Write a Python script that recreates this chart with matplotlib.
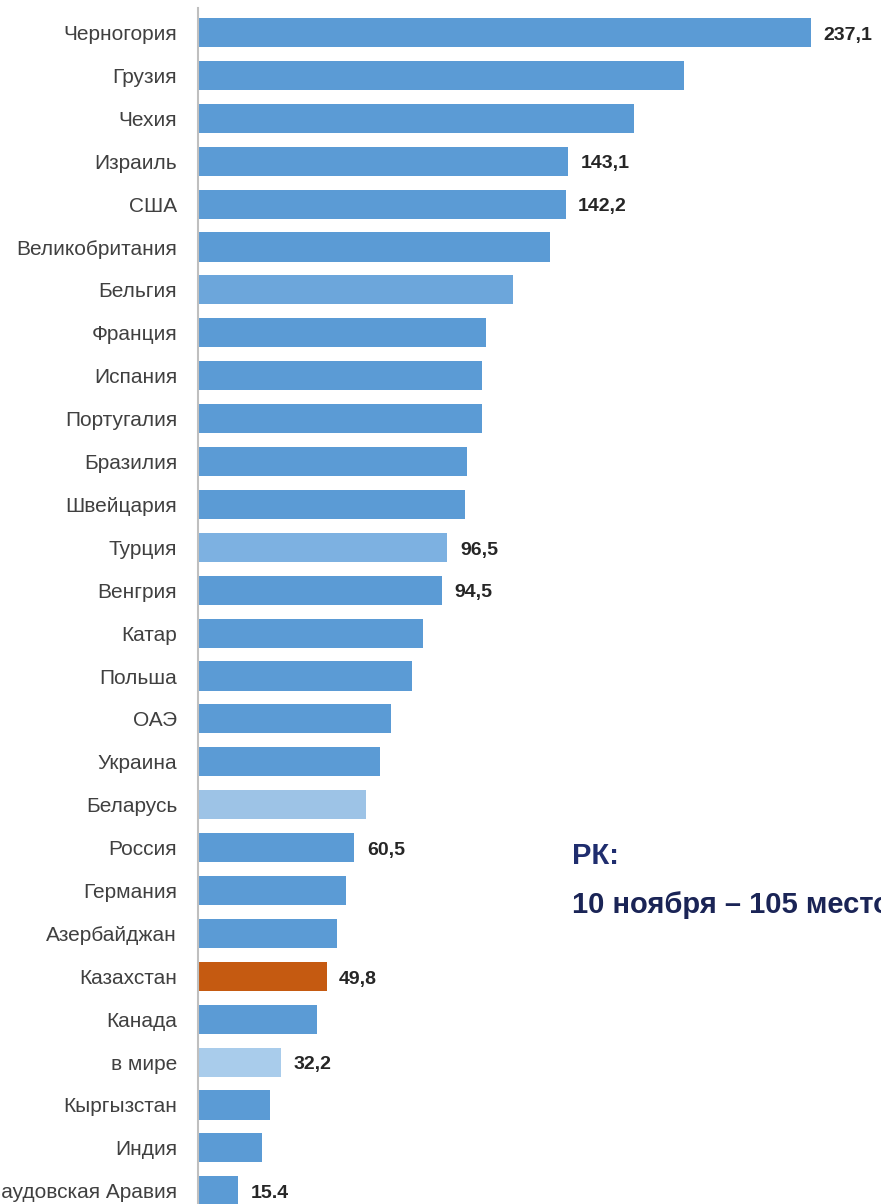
import matplotlib.pyplot as plt

countries = ["Черногория", "Грузия", "Чехия", "Израиль", "США", "Великобритания",
             "Бельгия", "Франция", "Испания", "Португалия", "Бразилия", "Швейцария",
             "Турция", "Венгрия", "Катар", "Польша", "ОАЭ", "Украина", "Беларусь",
             "Россия", "Германия", "Азербайджан", "Казахстан", "Канада", "в мире",
             "Кыргызстан", "Индия", "Саудовская Аравия"]
values = [237.1, 188.0, 168.7, 143.1, 142.2, 136.0, 122.0, 111.4, 109.9, 109.9,
          104.0, 103.3, 96.5, 94.5, 87.0, 82.8, 74.7, 70.4, 65.0, 60.5, 57.3,
          53.8, 49.8, 46.0, 32.2, 27.9, 24.8, 15.4]
value_labels = ["237,1", None, None, "143,1", "142,2", None, None, None, None, None,
                None, None, "96,5", "94,5", None, None, None, None, None, "60,5",
                None, None, "49,8", None, "32,2", None, None, "15.4"]

base = "#5B9BD5"
special = {"Бельгия": "#6CA6DB", "Турция": "#7DB1E1", "Беларусь": "#9DC3E6",
           "в мире": "#A9CCEB", "Казахстан": "#C55A11"}
colors = [special.get(c, base) for c in countries]

plt.rcParams['font.family'] = ['Liberation Sans Narrow', 'Liberation Sans', 'DejaVu Sans']

fig = plt.figure(figsize=(8.81, 12.04), dpi=100)
ax = fig.add_axes([198 / 881, 0, (881 - 198) / 881, (1204 - 8) / 1204])

pos = list(range(len(countries)))
ax.barh(pos, values, height=0.68, color=colors)

ax.set_xlim(0, (881 - 198) / 2.585)
ax.set_ylim((1204 - 32.5) / 42.9, -(32.5 - 8) / 42.9)

ax.set_yticks(pos)
ax.set_yticklabels(countries, fontsize=15, color="#404040")
ax.tick_params(axis="y", length=0, pad=15)
ax.set_xticks([])

for side in ["top", "right", "bottom"]:
    ax.spines[side].set_visible(False)
ax.spines["left"].set_color("#BFBFBF")
ax.spines["left"].set_linewidth(1.5)

for p, v, lab in zip(pos, values, value_labels):
    if lab:
        ax.annotate(lab, (v, p), xytext=(9, -2), textcoords="offset points",
                    va="center", ha="left", fontsize=14, fontweight="bold",
                    color="#262626")

fig.text(572 / 881, 1 - 856 / 1204, "РК:", fontsize=21, fontweight="bold",
         color="#1F2D6E", va="center", ha="left")
fig.text(572 / 881, 1 - 905 / 1204, "10 ноября – 105 место", fontsize=21,
         fontweight="bold", color="#1A2456", va="center", ha="left")

fig.savefig("out.png", dpi=100)
